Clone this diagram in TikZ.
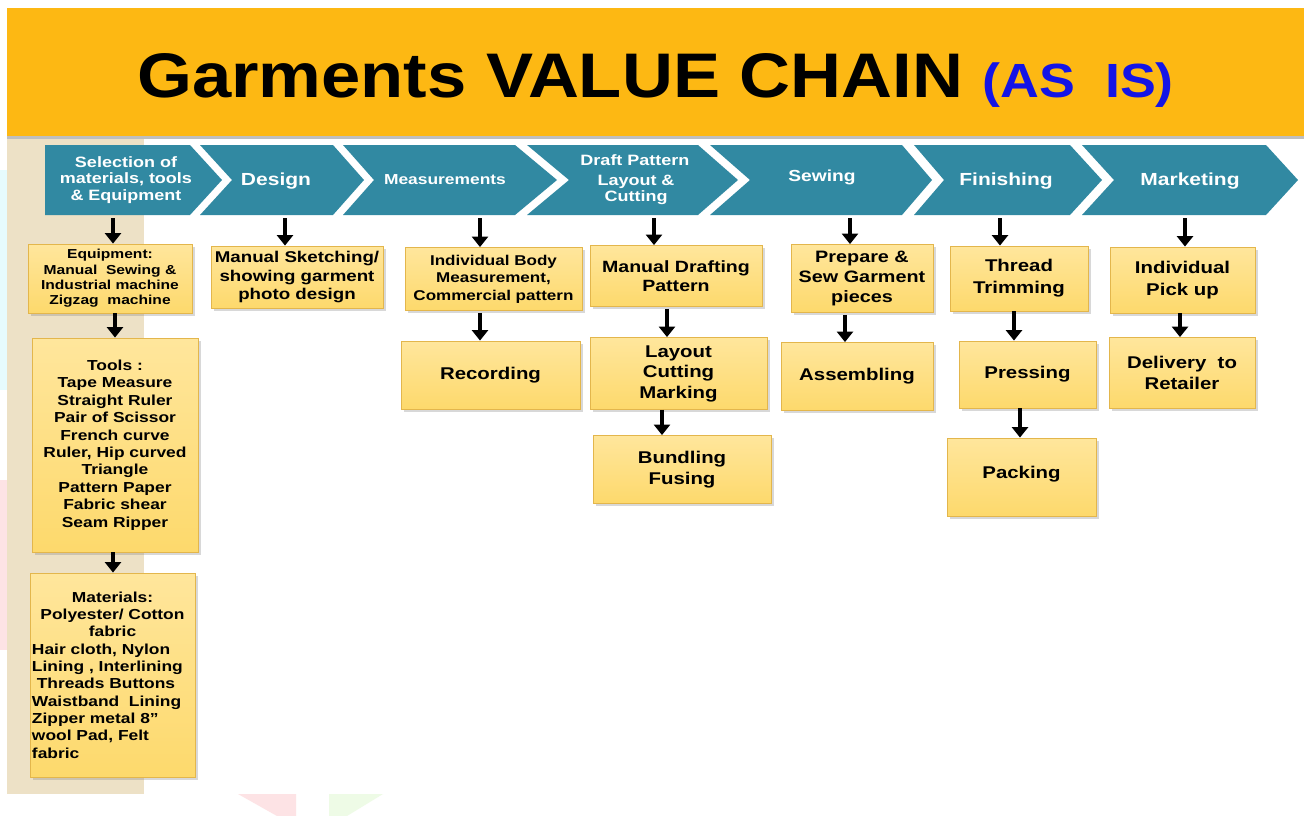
\documentclass[tikz,border=0pt]{standalone}
\usepackage{fontspec}
\setmainfont{Liberation Sans}[FakeStretch=1.2]
\newfontfamily\titlefont{Liberation Sans}[FakeStretch=1.12]
\usetikzlibrary{arrows.meta,shadows}
\definecolor{hdr}{HTML}{FDB813}
\definecolor{chev}{HTML}{3189A2}
\definecolor{beige}{HTML}{EDE1C6}
\definecolor{boxtop}{HTML}{FFE69C}
\definecolor{boxbot}{HTML}{FDD96C}
\definecolor{boxline}{HTML}{E3B64C}
\definecolor{asblue}{HTML}{1414E6}
\definecolor{wmcyan}{HTML}{E6FBFD}
\definecolor{wmpink}{HTML}{FDE3E5}
\definecolor{wmgreen}{HTML}{EEFBE6}
\newcommand{\fs}[2]{\fontsize{#1}{#2}\selectfont}
\tikzset{
  ybox/.style={draw=boxline, line width=0.8pt, top color=boxtop, bottom color=boxbot,
    align=center, inner sep=2pt, font=\bfseries,
    drop shadow={shadow xshift=2.5pt, shadow yshift=-2.5pt, opacity=0.3}},
  chevtxt/.style={text=white, font=\bfseries, align=center, inner sep=0pt},
  arr/.style={line width=4.2pt, -{Triangle[width=16pt,length=10.5pt]}, black},
}
\begin{document}
\begin{tikzpicture}[x=1pt,y=-1pt]
\useasboundingbox (0,0) rectangle (1304,816);
\fill[white] (0,0) rectangle (1304,816);
% faint watermark remnants
\fill[wmcyan] (0,170) rectangle (7,390);
\fill[wmpink] (0,480) rectangle (7,650);
\fill[wmpink] (238,794) -- (296,794) -- (296,816) -- (277,816) -- cycle;
\fill[wmgreen] (329,794) -- (383,794) -- (347,816) -- (329,816) -- cycle;
% left beige column
\fill[beige] (7,137) rectangle (144,794);
% header
\fill[black!25] (7,135) rectangle (1304,139);
\fill[hdr] (7,8) rectangle (1304,136);
\node[anchor=base west, inner sep=0pt] (title) at (137,97)
  {\titlefont\bfseries\fs{63}{70}Garments VALUE CHAIN \textcolor{asblue}{\fs{48}{52}(AS\ \ IS)}};
% chevron bar
\node[minimum width=1260pt, minimum height=70pt, inner sep=0pt] (bar) at (672,180) {};
\fill[chev] (45,145) -- (190,145) -- (222,180) -- (190,215) -- (45,215) -- cycle;
\fill[chev] (200,145) -- (333,145) -- (364,180) -- (333,215) -- (200,215) -- (232,180) -- cycle;
\fill[chev] (343,145) -- (515,145) -- (557,180) -- (515,215) -- (343,215) -- (374,180) -- cycle;
\fill[chev] (527,145) -- (698,145) -- (738,180) -- (698,215) -- (527,215) -- (569,180) -- cycle;
\fill[chev] (710,145) -- (902,145) -- (932,180) -- (902,215) -- (710,215) -- (750,180) -- cycle;
\fill[chev] (914,145) -- (1070,145) -- (1102,180) -- (1070,215) -- (914,215) -- (944,180) -- cycle;
\fill[chev] (1082,145) -- (1266,145) -- (1298,180) -- (1266,215) -- (1082,215) -- (1114,180) -- cycle;
\node[chevtxt, font=\bfseries\fs{15}{16.5}] (c1) at (126,180) {Selection of\\materials, tools\\\& Equipment};
\node[chevtxt, font=\bfseries\fs{17.5}{20}] (c2) at (276,181) {Design};
\node[chevtxt, font=\bfseries\fs{14.5}{17}] (c3) at (445,180) {Measurements};
\node[chevtxt, font=\bfseries\fs{15}{17}] (c4a) at (635,160) {Draft Pattern};
\node[chevtxt, font=\bfseries\fs{15}{15.5}] (c4) at (636,190) {Layout \&\\Cutting};
\node[chevtxt, font=\bfseries\fs{16}{18}] (c5) at (822,177) {Sewing};
\node[chevtxt, font=\bfseries\fs{17.5}{20}] (c6) at (1006,181) {Finishing};
\node[chevtxt, font=\bfseries\fs{17.5}{20}] (c7) at (1190,181) {Marketing};
% boxes
\node[ybox, minimum width=164pt, minimum height=69pt, font=\bfseries\fs{13}{15.3}] (e1) at (110,278.5)
  {Equipment:\\Manual\ \ Sewing \&\\Industrial machine\\Zigzag\ \ machine};
\node[ybox, minimum width=166pt, minimum height=214pt, font=\bfseries\fs{14.5}{17.4}] (e2) at (115,445)
  {Tools :\\Tape Measure\\Straight Ruler\\Pair of Scissor\\French curve\\Ruler, Hip curved\\Triangle\\Pattern Paper\\Fabric shear\\Seam Ripper};
\node[ybox, minimum width=165pt, minimum height=204pt, text width=161pt, align=left, font=\bfseries\fs{14.5}{17.3}] (e3) at (112.5,675)
  {\makebox[\linewidth][c]{Materials:}\\\makebox[\linewidth][c]{Polyester/ Cotton}\\\makebox[\linewidth][c]{fabric}\\Hair cloth, Nylon\\Lining , Interlining\\\ Threads Buttons\\Waistband\ \ Lining\\Zipper metal 8”\\wool Pad, Felt\\fabric};
\node[ybox, minimum width=172pt, minimum height=62pt, font=\bfseries\fs{15.6}{18.5}] (d1) at (297,277)
  {Manual Sketching/\\showing garment\\photo design};
\node[ybox, minimum width=177pt, minimum height=63pt, font=\bfseries\fs{14.2}{17.5}] (m1) at (493.5,279)
  {Individual Body\\Measurement,\\Commercial pattern};
\node[ybox, minimum width=179pt, minimum height=68pt, font=\bfseries\fs{17}{20.5}] (m2) at (490.5,375)
  {Recording};
\node[ybox, minimum width=172pt, minimum height=61pt, font=\bfseries\fs{16.3}{19}] (p1) at (676,276)
  {Manual Drafting\\Pattern};
\node[ybox, minimum width=177pt, minimum height=72pt, font=\bfseries\fs{17}{20.5}] (p2) at (678.5,373.5)
  {Layout\\Cutting\\Marking};
\node[ybox, minimum width=178pt, minimum height=68pt, font=\bfseries\fs{17}{20.5}] (p3) at (682,469.5)
  {Bundling\\Fusing};
\node[ybox, minimum width=142pt, minimum height=68pt, font=\bfseries\fs{16.5}{20}] (s1) at (862,278.5)
  {Prepare \&\\Sew Garment\\pieces};
\node[ybox, minimum width=152pt, minimum height=68pt, font=\bfseries\fs{17}{20.5}] (s2) at (857,376.5)
  {Assembling};
\node[ybox, minimum width=138pt, minimum height=65pt, font=\bfseries\fs{17}{22}] (f1) at (1019,278.5)
  {Thread\\Trimming};
\node[ybox, minimum width=137pt, minimum height=67pt, font=\bfseries\fs{17}{20.5}] (f2) at (1027.5,374.5)
  {Pressing};
\node[ybox, minimum width=149pt, minimum height=78pt, font=\bfseries\fs{17}{20.5}] (f3) at (1021.5,477)
  {\raisebox{10pt}{Packing}};
\node[ybox, minimum width=145pt, minimum height=66pt, font=\bfseries\fs{17}{22}] (k1) at (1182.5,280)
  {Individual\\Pick up};
\node[ybox, minimum width=146pt, minimum height=71pt, font=\bfseries\fs{17}{21}] (k2) at (1182,373)
  {Delivery\ \ to\\Retailer};
% arrows
\draw[arr, shorten <=3pt] (bar.south -| 113,0) -- (e1.north -| 113,0);
\draw[arr] (e1.south -| 115,0) -- (e2.north -| 115,0);
\draw[arr] (e2.south -| 113,0) -- (e3.north -| 113,0);
\draw[arr, shorten <=3pt] (bar.south -| 285,0) -- (d1.north -| 285,0);
\draw[arr, shorten <=3pt] (bar.south -| 480,0) -- (m1.north -| 480,0);
\draw[arr, shorten <=2pt] (m1.south -| 480,0) -- (m2.north -| 480,0);
\draw[arr, shorten <=3pt] (bar.south -| 654,0) -- (p1.north -| 654,0);
\draw[arr, shorten <=2pt] (p1.south -| 667,0) -- (p2.north -| 667,0);
\draw[arr] (p2.south -| 662,0) -- (p3.north -| 662,0);
\draw[arr, shorten <=3pt] (bar.south -| 850,0) -- (s1.north -| 850,0);
\draw[arr, shorten <=2pt] (s1.south -| 845,0) -- (s2.north -| 845,0);
\draw[arr, shorten <=3pt] (bar.south -| 1000,0) -- (f1.north -| 1000,0);
\draw[arr] (f1.south -| 1014,0) -- (f2.north -| 1014,0);
\draw[arr] (f2.south -| 1020,0) -- (f3.north -| 1020,0);
\draw[arr, shorten <=3pt] (bar.south -| 1185,0) -- (k1.north -| 1185,0);
\draw[arr] (k1.south -| 1180,0) -- (k2.north -| 1180,0);
\end{tikzpicture}
\end{document}
